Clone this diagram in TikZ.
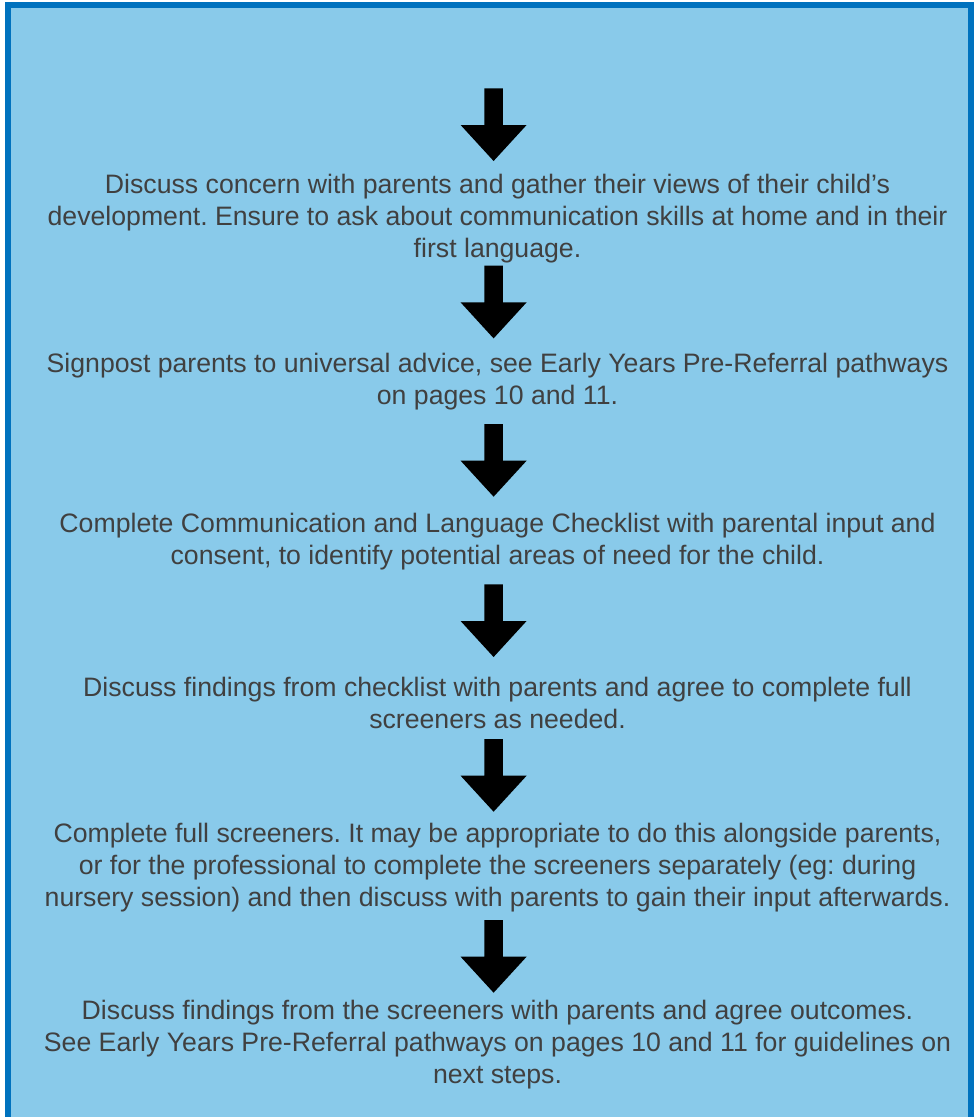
\documentclass[tikz,border=0pt]{standalone}
\usepackage{fontspec}
\setmainfont{Liberation Sans}
\frenchspacing
\definecolor{bgblue}{RGB}{137,202,234}
\definecolor{frameblue}{RGB}{0,114,190}
\definecolor{txtgray}{RGB}{64,64,64}
\tikzset{
  stepnote/.style={anchor=base, text=txtgray, inner sep=0pt, font=\fontsize{20}{24}\selectfont\frenchspacing},
  downarrow/.pic={\fill[black] (-9.2,0) -- (9.2,0) -- (9.2,36.7) -- (33,36.7) -- (0,72.7) -- (-33,36.7) -- (-9.2,36.7) -- cycle;}
}
\newcommand\stepbody[1]{\begin{tabular}[t]{@{}c@{}}#1\end{tabular}}
\begin{document}
\begin{tikzpicture}[x=0.75pt,y=-0.75pt]
\useasboundingbox (0,0) rectangle (978,1117);
\fill[white] (0,0) rectangle (978,1117);
\begin{scope}
\clip (0,0) rectangle (978,1117);
\filldraw[fill=bgblue, draw=frameblue, line width=4.5pt] (8,5) rectangle (970.5,1140);
\end{scope}

\pic at (493.6,88.3) {downarrow};
\node[stepnote] (s1) at (497.5,193.5) {\stepbody{Discuss concern with parents and gather their views of their child’s\\development. Ensure to ask about communication skills at home and in their\\first language.}};

\pic at (493.6,265.7) {downarrow};
\node[stepnote] (s2) at (497.5,372) {\stepbody{Signpost parents to universal advice, see Early Years Pre-Referral pathways\\on pages 10 and 11.}};

\pic at (493.6,424) {downarrow};
\node[stepnote] (s3) at (497.5,532.5) {\stepbody{Complete Communication and Language Checklist with parental input and\\consent, to identify potential areas of need for the child.}};

\pic at (493.6,584.3) {downarrow};
\node[stepnote] (s4) at (497.5,696.5) {\stepbody{Discuss findings from checklist with parents and agree to complete full\\screeners as needed.}};

\pic at (493.6,739) {downarrow};
\node[stepnote] (s5) at (497.5,842.5) {\stepbody{Complete full screeners. It may be appropriate to do this alongside parents,\\or for the professional to complete the screeners separately (eg: during\\nursery session) and then discuss with parents to gain their input afterwards.}};

\pic at (493.6,920) {downarrow};
\node[stepnote] (s6) at (497.5,1019) {\stepbody{Discuss findings from the screeners with parents and agree outcomes.\\See Early Years Pre-Referral pathways on pages 10 and 11 for guidelines on\\next steps.}};
\end{tikzpicture}
\end{document}
